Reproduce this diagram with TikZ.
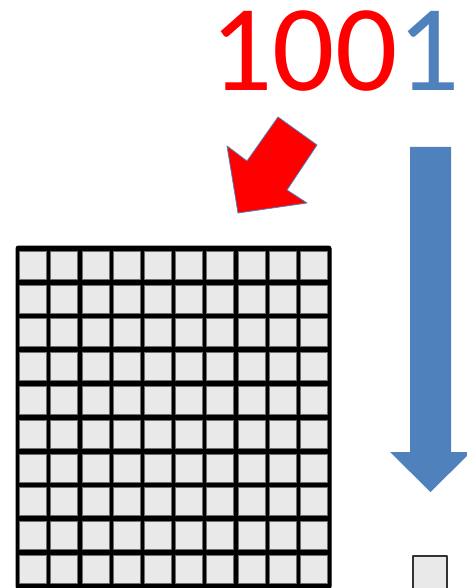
\documentclass[tikz,border=0pt]{standalone}
\usepackage{fontspec}
\usepackage{xcolor}
\usepackage{tikz}
\usetikzlibrary{positioning}
\newfontfamily\digitfont{Carlito}
\definecolor{officeblue}{HTML}{4F81BD}
\definecolor{pointred}{HTML}{FF0000}
\definecolor{cellgray}{HTML}{E9E9E9}
\definecolor{celledge}{HTML}{6E6E6E}
\tikzset{
    every picture/.style={line cap=round,line join=round},
    gridframe/.style={fill=black,draw=black,line width=1pt,rounded corners=2.5pt},
    memcell/.style={fill=cellgray,draw=celledge,line width=0.6pt},
    loosecell/.style={fill=cellgray,draw=black!80,line width=1.6pt},
    redpointer/.style={fill=pointred,draw=officeblue,line width=0.8pt},
    downarrow/.style={fill=officeblue,draw=none},
    bignumber/.style={inner sep=0pt,anchor=base,
      font=\digitfont\fontsize{123}{123}\selectfont}
}

\begin{document}
\begin{tikzpicture}[x=1pt,y=-1pt]
  \useasboundingbox (0,0) rectangle (466,588);
  % the number, last digit set apart in blue
  \node[bignumber] (number) at (335,91)
    {\textcolor{pointred}{100}\textcolor{officeblue}{1}};

  % pointer into the grid
  \draw[redpointer] (238,213) -- (227,146) -- (247,161) -- (278,117)
    -- (317,145) -- (287,190) -- (307,203) -- cycle;

  % 10 x 10 block of cells
  \draw[gridframe] (16,246) rectangle (331,589);
  \foreach \col in {0,...,9} {
    \foreach \row in {0,...,9} {
      \draw[memcell] (19.5+31.2*\col,251+33.8*\row)
        rectangle ++(27,28);
    }
  }

  % shrinking arrow and the single cell
  \fill[downarrow] (410,147) -- (451,147) -- (451,452) -- (471,452)
    -- (430.5,492) -- (390,452) -- (410,452) -- cycle;
  \draw[loosecell] (413,556) rectangle (447,592);
\end{tikzpicture}
\end{document}
